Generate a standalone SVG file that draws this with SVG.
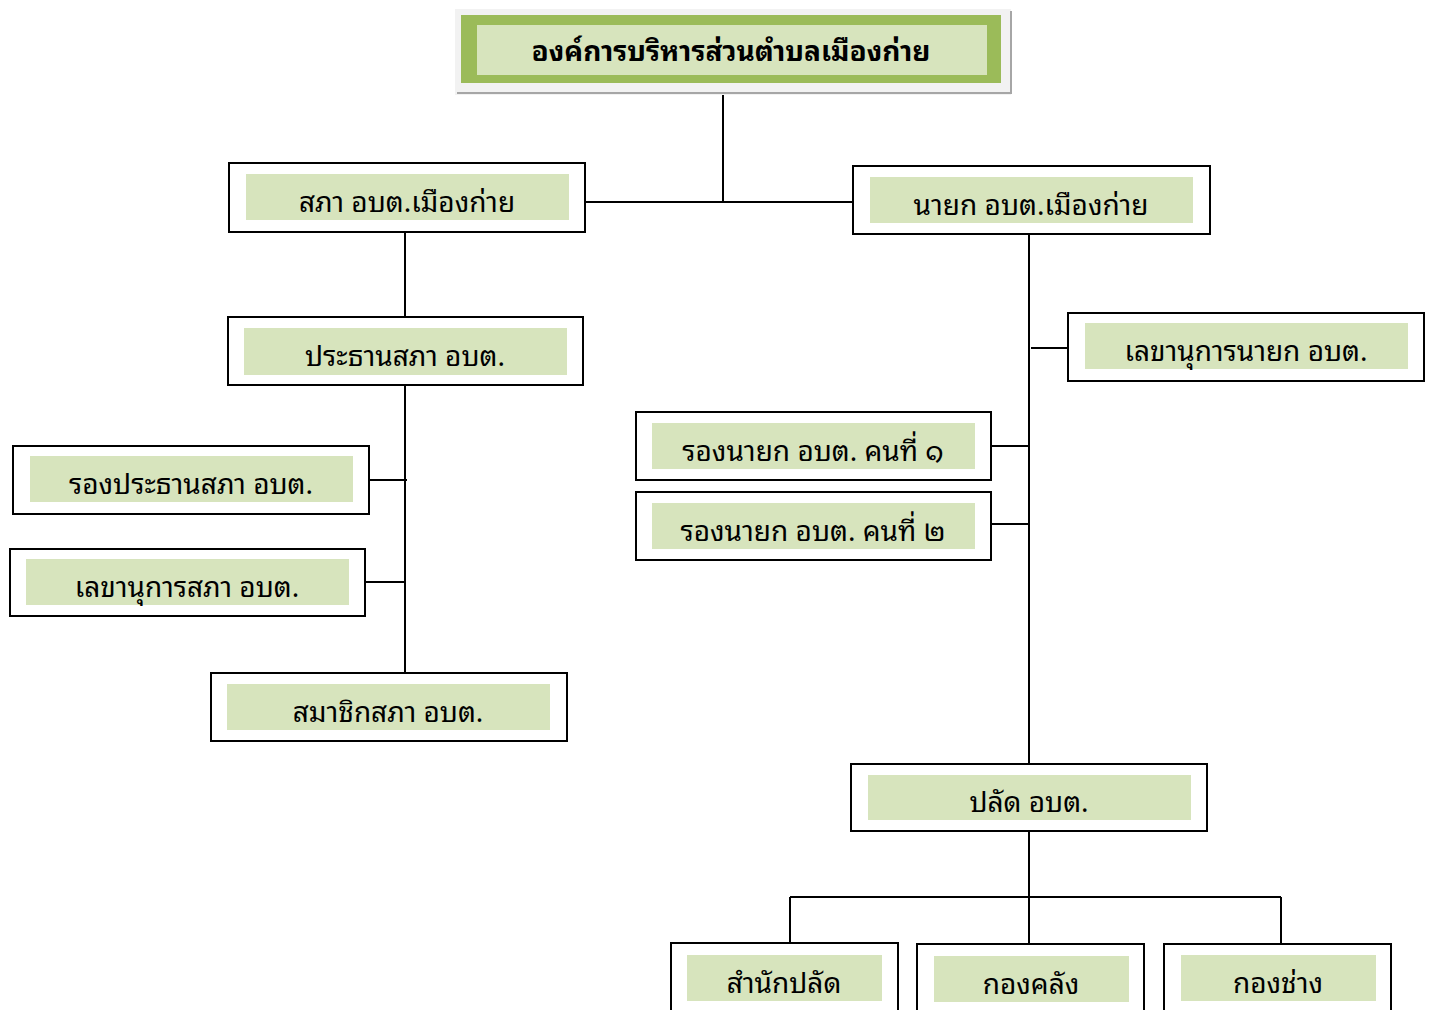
<svg xmlns="http://www.w3.org/2000/svg" width="1431" height="1010" viewBox="0 0 1431 1010">
<style>
.box{fill:#ffffff;stroke:#000000;stroke-width:2}
.fill{fill:#d7e4bd}
.t{font-family:"Noto Sans Thai Looped","Noto Sans Thai","Noto Sans","DejaVu Sans",sans-serif;font-size:28px;fill:#000000;text-anchor:middle}
.tb{font-weight:bold;font-size:28px}
.c{stroke:#000000;stroke-width:2;fill:none}
</style>
<rect width="1431" height="1010" fill="#ffffff"/>
<g id="connectors">
<path class="c" d="M723 83V202M582 202H856"/>
<path class="c" d="M405 232V317M405 385V673M369 480H407M365 582H405"/>
<path class="c" d="M1029 234V764M1031 348H1068M991 446H1029M991 524H1029"/>
<path class="c" d="M1029 831V943M790 897H1281M790 897V943M1281 897V944"/>
</g>
<g id="n-top">
<rect x="455" y="9" width="556" height="86" fill="#f2f2f2"/>
<path d="M457 93H1011V11" stroke="#a6a6a6" stroke-width="2" fill="none"/>
<rect x="461" y="15" width="540" height="68" fill="#9bbb59"/>
<rect x="477" y="25" width="510" height="50" class="fill"/>
<text class="t tb" x="731" y="61">องค์การบริหารส่วนตำบลเมืองก่าย</text>
</g>
<g id="n-sapa">
<rect class="box" x="229" y="163" width="356" height="69"/>
<rect class="fill" x="246" y="174" width="323" height="46"/>
<text class="t" x="407" y="212">สภา อบต.เมืองก่าย</text>
</g>
<g id="n-nayok">
<rect class="box" x="853" y="166" width="357" height="68"/>
<rect class="fill" x="870" y="177" width="323" height="46"/>
<text class="t" x="1031" y="215">นายก อบต.เมืองก่าย</text>
</g>
<g id="n-prathan">
<rect class="box" x="228" y="317" width="355" height="68"/>
<rect class="fill" x="244" y="328" width="323" height="47"/>
<text class="t" x="405" y="366">ประธานสภา อบต.</text>
</g>
<g id="n-lekha-nayok">
<rect class="box" x="1068" y="313" width="356" height="68"/>
<rect class="fill" x="1085" y="323" width="323" height="46"/>
<text class="t" x="1246" y="361">เลขานุการนายก อบต.</text>
</g>
<g id="n-rong1">
<rect class="box" x="636" y="412" width="355" height="68"/>
<rect class="fill" x="652" y="423" width="323" height="46"/>
<text class="t" x="813" y="461">รองนายก อบต. คนที่ ๑</text>
</g>
<g id="n-rong2">
<rect class="box" x="636" y="492" width="355" height="68"/>
<rect class="fill" x="652" y="503" width="323" height="46"/>
<text class="t" x="813" y="541">รองนายก อบต. คนที่ ๒</text>
</g>
<g id="n-rong-prathan">
<rect class="box" x="13" y="446" width="356" height="68"/>
<rect class="fill" x="30" y="456" width="323" height="46"/>
<text class="t" x="191" y="494">รองประธานสภา อบต.</text>
</g>
<g id="n-lekha-sapa">
<rect class="box" x="10" y="549" width="355" height="67"/>
<rect class="fill" x="26" y="559" width="323" height="46"/>
<text class="t" x="187" y="597">เลขานุการสภา อบต.</text>
</g>
<g id="n-samachik">
<rect class="box" x="211" y="673" width="356" height="68"/>
<rect class="fill" x="227" y="684" width="323" height="46"/>
<text class="t" x="388" y="722">สมาชิกสภา อบต.</text>
</g>
<g id="n-palad">
<rect class="box" x="851" y="764" width="356" height="67"/>
<rect class="fill" x="868" y="775" width="323" height="45"/>
<text class="t" x="1029" y="812">ปลัด อบต.</text>
</g>
<g id="n-samnak">
<rect class="box" x="671" y="943" width="227" height="80"/>
<rect class="fill" x="687" y="955" width="195" height="46"/>
<text class="t" x="784" y="993">สำนักปลัด</text>
</g>
<g id="n-klang">
<rect class="box" x="917" y="944" width="227" height="80"/>
<rect class="fill" x="934" y="956" width="195" height="46"/>
<text class="t" x="1031" y="994">กองคลัง</text>
</g>
<g id="n-chang">
<rect class="box" x="1164" y="944" width="227" height="80"/>
<rect class="fill" x="1181" y="955" width="195" height="46"/>
<text class="t" x="1278" y="993">กองช่าง</text>
</g>
</svg>
